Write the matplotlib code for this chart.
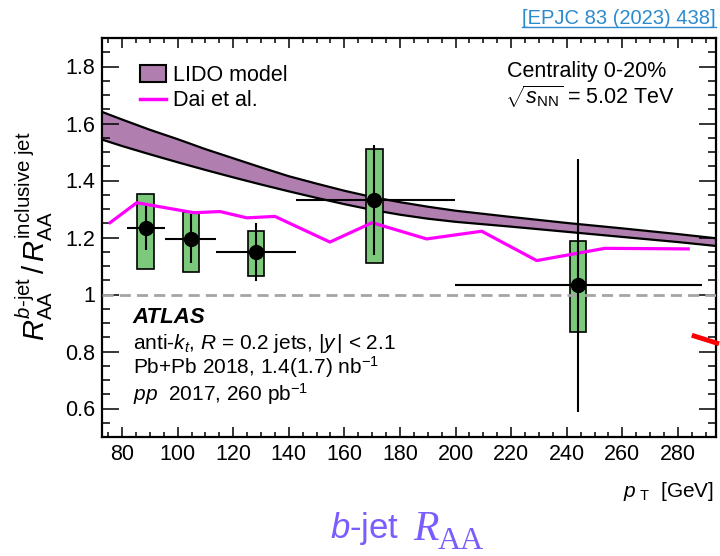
import numpy as np
import matplotlib
matplotlib.use("Agg")
import matplotlib.pyplot as plt
from matplotlib.patches import Patch
from matplotlib.lines import Line2D
from matplotlib.ticker import MultipleLocator, FixedLocator, FuncFormatter

plt.rcParams["font.family"] = ["Liberation Sans", "DejaVu Sans"]
plt.rcParams["mathtext.fontset"] = "custom"
plt.rcParams["mathtext.rm"] = "Liberation Sans"
plt.rcParams["mathtext.it"] = "Liberation Sans:italic"
plt.rcParams["mathtext.bf"] = "Liberation Sans:bold"

# ATLAS b-jet / inclusive jet RAA ratio
pt = np.array([88.5, 104.8, 128.2, 170.8, 244.0])
pt_lo = np.array([81.8, 95.3, 113.8, 142.6, 199.8])
pt_hi = np.array([95.3, 113.8, 142.6, 199.8, 288.6])
ratio = np.array([1.233, 1.195, 1.148, 1.333, 1.033])
stat_lo = np.array([1.155, 1.112, 1.046, 1.137, 0.589])
stat_hi = np.array([1.309, 1.284, 1.250, 1.523, 1.474])
syst_lo = np.array([1.088, 1.080, 1.066, 1.112, 0.867])
syst_hi = np.array([1.351, 1.288, 1.222, 1.512, 1.186])

# LIDO model band
lido_x = [73, 80, 90, 100, 110, 120, 130, 140, 150, 160, 170, 180, 190, 200,
          220, 240, 260, 280, 294]
lido_hi = [1.640, 1.614, 1.578, 1.545, 1.510, 1.478, 1.446, 1.415, 1.389, 1.364,
           1.342, 1.324, 1.308, 1.294, 1.272, 1.251, 1.232, 1.212, 1.197]
lido_lo = [1.543, 1.521, 1.492, 1.464, 1.437, 1.411, 1.386, 1.362, 1.339, 1.317,
           1.297, 1.280, 1.266, 1.255, 1.238, 1.220, 1.202, 1.184, 1.170]

# Dai et al. curve
dai_x = [75.7, 85.3, 105.9, 115.3, 124.9, 135.0, 154.8, 170.0, 189.6, 209.4, 229.2, 253.7, 283.7]
dai_y = [1.252, 1.322, 1.287, 1.291, 1.269, 1.274, 1.184, 1.252, 1.195, 1.222, 1.119, 1.162, 1.160]

# stray red segment at the right edge
red_x = [285.0, 294.8]
red_y = [0.857, 0.827]

fig = plt.figure(figsize=(7.2, 5.56), dpi=100)
ax = fig.add_axes([102 / 720, 1 - 437 / 556, 614 / 720, 399 / 556])

ax.fill_between(lido_x, lido_lo, lido_hi, color="#b07fb0", lw=0, zorder=1)
ax.plot(lido_x, lido_hi, color="black", lw=1.6, zorder=1.5)
ax.plot(lido_x, lido_lo, color="black", lw=1.6, zorder=1.5)

ax.bar(pt, syst_hi - syst_lo, bottom=syst_lo, width=6.0, color="#7cc97c",
       edgecolor="black", lw=1.2, zorder=2)
ax.axhline(1.0, color="#a5a5a5", lw=2.0, dashes=(4.0, 2.2), zorder=3)
ax.plot(dai_x, dai_y, color="#ff00ff", lw=2.3, zorder=4)
ax.errorbar(pt, ratio, xerr=[pt - pt_lo, pt_hi - pt],
            yerr=[ratio - stat_lo, stat_hi - ratio], fmt="o", color="black",
            ms=10, lw=1.5, capsize=0, zorder=5)
ax.plot(red_x, red_y, color="red", lw=3.5, solid_capstyle="butt",
        clip_on=False, zorder=6)

ax.set_xlim(72.8, 293.7)
ax.set_ylim(0.5, 1.9)
ax.xaxis.set_major_locator(FixedLocator(np.arange(80, 281, 20)))
ax.xaxis.set_minor_locator(MultipleLocator(5))
ax.yaxis.set_major_locator(FixedLocator([0.6, 0.8, 1.0, 1.2, 1.4, 1.6, 1.8]))
ax.yaxis.set_minor_locator(MultipleLocator(0.05))
ax.yaxis.set_major_formatter(FuncFormatter(lambda v, p: f"{v:g}"))
ax.tick_params(which="both", direction="in", top=True, right=True,
               width=1.1, labelsize=15.5, pad=5)
ax.tick_params(axis="x", which="major", length=7.5)
ax.tick_params(axis="x", which="minor", length=3.8)
ax.tick_params(axis="y", which="major", length=12.5)
ax.tick_params(axis="y", which="minor", length=6)
for s in ax.spines.values():
    s.set_linewidth(1.6)

handles = [Patch(facecolor="#b07fb0", edgecolor="black", lw=1.5),
           Line2D([], [], color="#ff00ff", lw=2.5)]
ax.legend(handles, ["LIDO model", "Dai et al."], loc="upper left",
          bbox_to_anchor=(0.062, 0.932), frameon=False, fontsize=15.5,
          handlelength=1.2, handleheight=0.8, handletextpad=0.35,
          labelspacing=0.2, borderpad=0, borderaxespad=0)

ax.text(0.66, 0.915, "Centrality 0-20%", transform=ax.transAxes,
        fontsize=15.5, va="center")
ax.text(0.657, 0.853, r"$\sqrt{s_{\mathrm{NN}}}$ = 5.02 TeV",
        transform=ax.transAxes, fontsize=15.5, va="center")

ax.text(0.05, 0.30, "ATLAS", transform=ax.transAxes, fontsize=16,
        fontweight="bold", fontstyle="italic", va="center")
ax.text(0.05, 0.235, r"anti-$k_{t}$, $R$ = 0.2 jets, $|y\,|$ < 2.1",
        transform=ax.transAxes, fontsize=15, va="center")
ax.text(0.05, 0.175, r"Pb+Pb 2018, 1.4(1.7) nb$^{-1}$",
        transform=ax.transAxes, fontsize=15, va="center")
ax.text(0.05, 0.108, r"$pp$  2017, 260 pb$^{-1}$",
        transform=ax.transAxes, fontsize=15, va="center")

fig.text(34 / 720, 1 - 236 / 556,
         r"$R^{b\text{-jet}}_{\mathrm{AA}}\,/\,R^{\mathrm{inclusive\ jet}}_{\mathrm{AA}}$",
         rotation=90, ha="center", va="center", fontsize=21)
fig.text(714 / 720, 1 - 497 / 556, r"$p_{\ \mathrm{T}}$  [GeV]", ha="right",
         va="baseline", fontsize=15)

# bottom title: sans "b-jet", serif R with large AA subscript
t1 = fig.text(330 / 720, 1 - 538 / 556, r"$b$-jet", color="#7b5cff",
              fontsize=25, va="baseline", ha="left")
fig.canvas.draw()
bb = t1.get_window_extent()
t2 = fig.text((bb.x1 + 14) / 720, 1 - 540 / 556, "R", color="#7b5cff",
              fontsize=30, family="Liberation Serif", style="italic",
              va="baseline", ha="left")
fig.canvas.draw()
rb = t2.get_window_extent()
fig.text((rb.x1 - 1) / 720, 1 - 549 / 556, "AA", color="#7b5cff",
         fontsize=23, family="Liberation Serif", va="baseline", ha="left")

link = fig.text(716 / 720, 1 - 24 / 556, "[EPJC 83 (2023) 438]", color="#2b8bcc",
                fontsize=14.5, ha="right", va="baseline")
fig.canvas.draw()
lb = link.get_window_extent()
fig.add_artist(Line2D([lb.x0 / 720, lb.x1 / 720],
                      [(lb.y0 + 1.5) / 556, (lb.y0 + 1.5) / 556],
                      color="#2b8bcc", lw=1.0, transform=fig.transFigure))

fig.savefig("out.png", dpi=100)
